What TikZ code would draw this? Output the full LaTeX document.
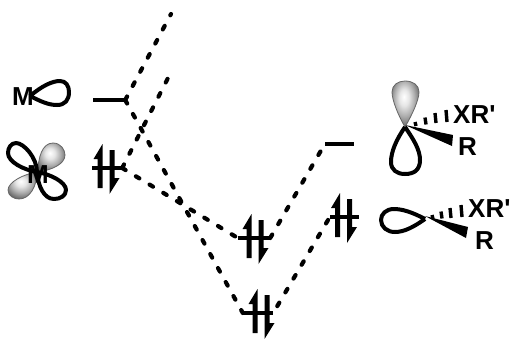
\documentclass[tikz,border=0pt]{standalone}
\usepackage{fontspec}
\setmainfont{Liberation Sans}
\usepackage{tikz}
\usetikzlibrary{positioning}
\pgfdeclareradialshading{lobeshade}{\pgfpoint{-3bp}{8bp}}{color(0bp)=(white); color(9bp)=(black!10); color(19bp)=(black!32); color(29bp)=(black!58); color(40bp)=(black!72); color(70bp)=(black!78)}

\begin{document}
\begin{tikzpicture}[x=1pt,y=-1pt]
\tikzstyle{level} = [rectangle, fill=black, inner sep=0pt, minimum height=4.5pt]
\tikzstyle{mix} = [line width=4.2pt, line cap=round, dash pattern=on 4pt off 12pt]
\tikzstyle{lobe} = [line width=4pt, line join=round]
\tikzstyle{shell} = [shading=lobeshade, draw=black!60, line width=0.8pt]
\tikzstyle{atom} = [font=\fontsize{26}{26}\selectfont\bfseries, inner sep=0pt, anchor=base west]
\tikzstyle{hash} = [line width=3.4pt]
\tikzset{spinpair/.pic={
  \fill (-3,-24) -- (-12,-9) -- (-8,-9) -- (-8,20) -- (-3,20) -- cycle;
  \fill (4,26) -- (14,10) -- (9,10) -- (9,-18) -- (4,-18) -- cycle;
}}
\useasboundingbox (0,0) rectangle (510,338);

% levels
\node[level, minimum width=32pt] (levelMa) at (109,100) {};
\node[level, minimum width=30pt] (levelMd) at (107,168) {};
\node[level, minimum width=32pt] (levelBa) at (254,238) {};
\node[level, minimum width=30pt] (levelBb) at (258,313) {};
\node[level, minimum width=29pt] (levelLa) at (339.5,144) {};
\node[level, minimum width=29pt] (levelLb) at (344.5,217) {};
\coordinate (endA) at (171,14);
\coordinate (endB) at (168,78);

\pic at (105.5,168) {spinpair};
\pic at (254.5,238) {spinpair};
\pic at (260.5,313) {spinpair};
\pic at (343,217) {spinpair};

% correlation lines
\draw[mix] (levelMa.east) -- (endA);
\draw[mix] (levelMd.east) -- (endB);
\draw[mix] (levelMa.east) -- (levelBb.west);
\draw[mix] (levelMd.east) -- (levelBa.west);
\draw[mix] (levelBa.east) -- (levelLa.west);
\draw[mix, shorten <=8pt] (levelBb.east) -- (levelLb.west);

% metal orbitals
\draw[lobe] (30,96) .. controls (42,86) and (52,81) .. (60,81) .. controls (66,81) and (69,86) .. (69,92)
  .. controls (69,100) and (65,105) .. (57,105) .. controls (48,105) and (40,101) .. (30,96);
\node[atom] (metalA) at (12,105) {M};

\path[shade, shell] (38,172) .. controls (38,158) and (42,143) .. (53,143) .. controls (61,143) and (65,150) .. (65,155)
  .. controls (65,164) and (52,170) .. (38,172);
\path[shade, shell] (37,172) .. controls (24,174) and (8,182) .. (8,190) .. controls (8,196) and (14,199) .. (19,199)
  .. controls (30,199) and (37,186) .. (37,172);
\draw[lobe] (37,172) .. controls (37,158) and (24,143) .. (16,143) .. controls (11,143) and (8,148) .. (8,153)
  .. controls (8,162) and (24,170) .. (37,172) .. controls (50,174) and (66,182) .. (66,190)
  .. controls (66,196) and (60,199) .. (54,199) .. controls (44,199) and (38,186) .. (37,172);
\node[atom] (metalB) at (27,183) {M};

% carbene orbitals
\path[shade, shell] (405,127) .. controls (398,115) and (392,100) .. (392,92) .. controls (392,85) and (398,81) .. (405,81)
  .. controls (413,81) and (419,85) .. (419,92) .. controls (419,100) and (412,115) .. (405,127);
\draw[lobe] (405,127) .. controls (396,140) and (391,152) .. (391,162) .. controls (391,170) and (397,174) .. (405,174)
  .. controls (414,174) and (420,170) .. (420,160) .. controls (420,150) and (414,140) .. (405,127);
\fill (405,125) -- (453,135) -- (452,146) -- cycle;
\foreach \x/\y/\h in {415/124/2,425/121/3.5,435/118/5,446/116/6}
  \draw[hash] (\x,\y-\h) -- (\x+1,\y+\h);
\node[atom] (groupA) at (453,123) {XR\textquotesingle};
\node[atom] (groupB) at (458,155) {R};

\draw[lobe] (425,219) .. controls (412,212) and (402,209) .. (394,209) .. controls (386,209) and (381,214) .. (381,220)
  .. controls (381,227) and (387,232) .. (395,232) .. controls (405,232) and (415,226) .. (425,219);
\fill (425,216) -- (468,227) -- (466,238) -- cycle;
\foreach \x/\y/\h in {432/217/2,441/215/3.5,450/213/5,461/211/6}
  \draw[hash] (\x,\y-\h) -- (\x+1,\y+\h);
\node[atom] (groupC) at (468,217) {XR\textquotesingle};
\node[atom] (groupD) at (475,249) {R};
\end{tikzpicture}
\end{document}
